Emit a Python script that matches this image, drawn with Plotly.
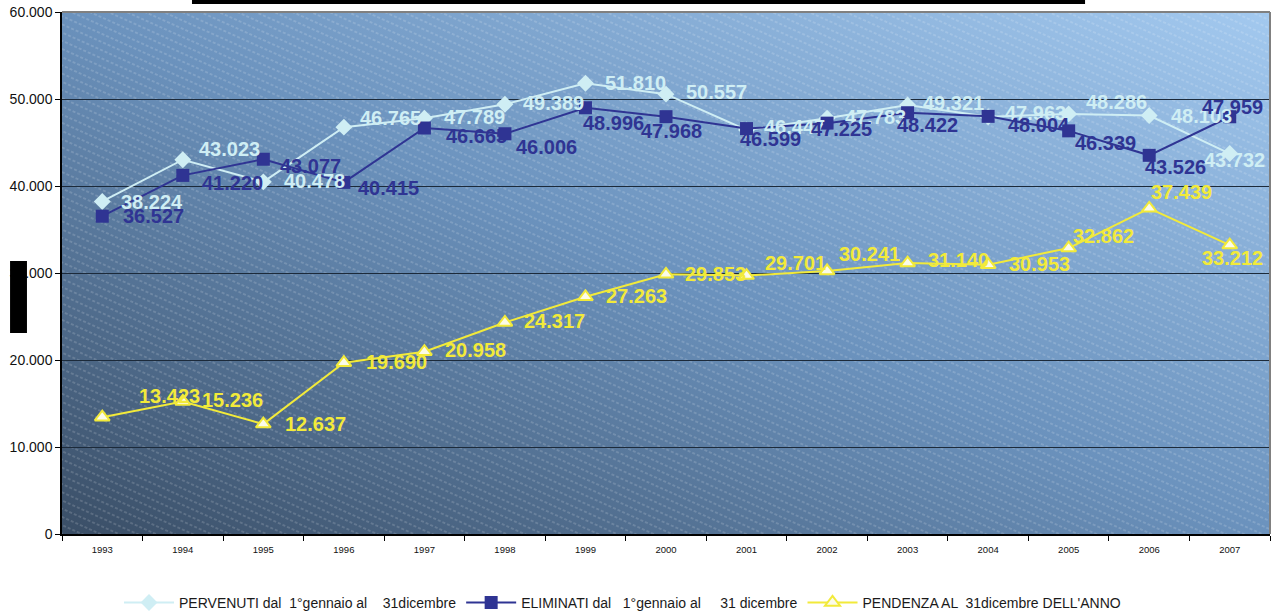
import base64
import plotly.graph_objects as go

# dati
anni = [str(a) for a in range(1993, 2008)]
pervenuti = [38224, 43023, 40478, 46765, 47789, 49389, 51810, 50557,
             46447, 47783, 49321, 47963, 48286, 48103, 43732]
eliminati = [36527, 41220, 43077, 40415, 46665, 46006, 48996, 47968,
             46599, 47225, 48422, 48004, 46339, 43526, 47959]
pendenza = [13423, 15236, 12637, 19690, 20958, 24317, 27263, 29853,
            29701, 30241, 31140, 30953, 32862, 37439, 33212]

nomi = ["PERVENUTI dal  1°gennaio al    31dicembre",
        "ELIMINATI dal   1°gennaio al     31 dicembre",
        "PENDENZA AL  31dicembre DELL'ANNO"]

# spostamento (px) del centro dell'etichetta rispetto al punto: (dx, dy verso il basso)
off_perv = [(50, 1), (47, -11), (51, -1), (47, -9), (50, -1), (49, -1), (50, 0), (50, -2),
            (48, -3), (48, -1), (46, -2), (47, -4), (48, -12), (52, 0), (5, 6)]
off_elim = [(51, 0), (50, 8), (47, 7), (45, 6), (52, 8), (42, 13), (28, 15), (5, 14),
            (24, 10), (14, 6), (20, 12), (51, 9), (37, 12), (26, 12), (3, -10)]
off_pend = [(67, -21), (50, -1), (52, 0), (53, -1), (51, -2), (50, -1), (51, -1), (49, 0),
            (49, -13), (42, -17), (51, -3), (51, -1), (35, -12), (32, -16), (3, 13)]

c_perv = "#cfeef4"
c_elim = "#2f3493"
c_pend = "#f2ea3a"
font = "Liberation Sans, Arial, sans-serif"

# sfondo sfumato con tratteggio diagonale
svg = """<svg xmlns="http://www.w3.org/2000/svg" width="1208" height="522" viewBox="0 0 1208 522">
<defs>
<linearGradient id="g" x1="0" y1="1" x2="1" y2="0">
<stop offset="0" stop-color="#3a4e66"/>
<stop offset="0.5" stop-color="#6b92bd"/>
<stop offset="1" stop-color="#a3c9ef"/>
</linearGradient>
<pattern id="h" width="10" height="7.5" patternUnits="userSpaceOnUse" patternTransform="rotate(24)">
<line x1="0" y1="3.75" x2="10" y2="3.75" stroke="#ffffff" stroke-opacity="0.3" stroke-width="1" stroke-dasharray="3 2"/>
</pattern>
</defs>
<rect width="1208" height="522" fill="url(#g)"/>
<rect width="1208" height="522" fill="url(#h)"/>
</svg>"""
sfondo = "data:image/svg+xml;base64," + base64.b64encode(svg.encode()).decode()


def fmt(v):
    return f"{v:,}".replace(",", ".")


def etichette(valori, offset, colore):
    # su un asse a categorie le annotazioni usano l'indice della categoria
    out = []
    for i, (v, (dx, dy)) in enumerate(zip(valori, offset)):
        out.append(dict(x=i, y=v, xref="x", yref="y", text=fmt(v), showarrow=False,
                        xanchor="center", yanchor="middle", xshift=dx, yshift=-dy,
                        font=dict(color=colore, size=20, family=font, weight="bold")))
    return out


fig = go.Figure()

fig.add_trace(go.Scatter(
    x=anni, y=pervenuti, name=nomi[0], mode="lines+markers",
    line=dict(color=c_perv, width=2),
    marker=dict(symbol="diamond", size=13, color=c_perv)))

fig.add_trace(go.Scatter(
    x=anni, y=eliminati, name=nomi[1], mode="lines+markers",
    line=dict(color=c_elim, width=2),
    marker=dict(symbol="square", size=13, color=c_elim)))

fig.add_trace(go.Scatter(
    x=anni, y=pendenza, name=nomi[2], mode="lines+markers",
    line=dict(color=c_pend, width=2),
    marker=dict(symbol="triangle-up", size=13, color="#fbfbe8",
                line=dict(color=c_pend, width=2))))

annotazioni = (etichette(pervenuti, off_perv, c_perv)
               + etichette(eliminati, off_elim, c_elim)
               + etichette(pendenza, off_pend, c_pend))

fig.update_layout(
    width=1273, height=614,
    margin=dict(l=62, r=3, t=12, b=80, autoexpand=False),
    paper_bgcolor="white", plot_bgcolor="rgba(0,0,0,0)",
    separators=",.",
    font=dict(family=font, color="#111111"),
    showlegend=True,
    legend=dict(orientation="h", x=0.464, xanchor="center", y=-0.132, yanchor="middle",
                font=dict(size=14, color="#1a1a1a"), itemwidth=50,
                bgcolor="rgba(0,0,0,0)"),
    annotations=annotazioni,
    images=[dict(source=sfondo, xref="paper", yref="paper", x=0, y=1,
                 sizex=1, sizey=1, sizing="stretch", layer="below")],
    shapes=[
        dict(type="line", xref="paper", yref="paper", x0=0, x1=1, y0=1, y1=1,
             line=dict(color="#808080", width=2)),
        dict(type="line", xref="paper", yref="paper", x0=1, x1=1, y0=0, y1=1,
             line=dict(color="#808080", width=2)),
        dict(type="rect", xref="paper", yref="paper", x0=0.1076, x1=0.8469,
             y0=1.0153, y1=1.03, fillcolor="black", line=dict(width=0)),
        dict(type="rect", xref="paper", yref="paper", x0=-0.043, x1=-0.029,
             y0=0.385, y1=0.523, fillcolor="black", line=dict(width=0)),
    ],
)

fig.update_xaxes(
    type="category", range=[-0.5, 14.5], tickson="boundaries", automargin=False,
    ticks="outside", ticklen=5, tickcolor="black", ticklabelstandoff=6,
    showline=True, linecolor="black", linewidth=1.5,
    showgrid=False, tickfont=dict(size=9.5, color="#111111"))

fig.update_yaxes(
    range=[0, 60000], dtick=10000, tickformat=",", automargin=False,
    ticks="outside", ticklen=5, tickcolor="black",
    showline=True, linecolor="black", linewidth=1.5,
    showgrid=True, gridcolor="#1c2a3a", gridwidth=1, zeroline=False,
    tickfont=dict(size=14, color="#111111"))

# la pagina ha un margine di 8px sul body: lo azzero per allineare il grafico
fig.write_html("out.html", config={"displayModeBar": False},
               post_script="document.body.style.margin='0';")
